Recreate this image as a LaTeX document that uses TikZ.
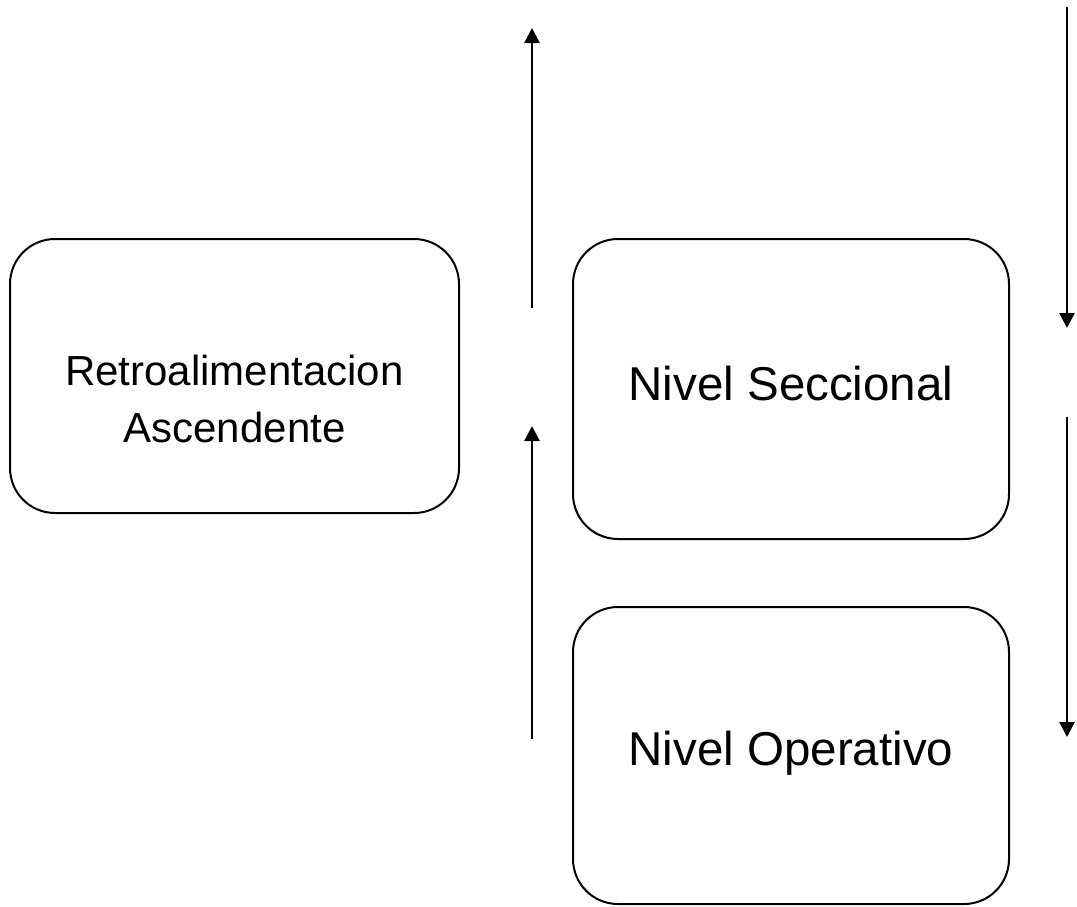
\documentclass[tikz,border=0pt]{standalone}
\usepackage{fontspec}
\setmainfont{Liberation Sans}
\usetikzlibrary{arrows.meta}
\begin{document}
\begin{tikzpicture}[x=1pt,y=-1pt,
  stage/.style={draw, line width=2pt, rounded corners=45pt, inner sep=0pt},
  flow/.style={line width=2.5pt, -{Triangle[length=15pt,width=15pt]}},
  bigtext/.style={font=\fontsize{47.5}{55}\selectfont, anchor=base, inner sep=0pt},
  midtext/.style={font=\fontsize{42}{55}\selectfont, anchor=base, inner sep=0pt}]
\useasboundingbox (0,0) rectangle (1077,906);

% boxes
\node[stage, minimum width=449pt, minimum height=274pt] (retro) at (234.5,376) {};
\node[stage, minimum width=436pt, minimum height=300pt] (secc) at (791,389) {};
\node[stage, minimum width=436pt, minimum height=297pt] (oper) at (791,755.5) {};

% labels
\node[midtext] (retroA) at (234.5,385) {Retroalimentacion};
\node[midtext] (retroB) at (234.5,442) {Ascendente};
\node[bigtext] (seccT) at (791,400) {Nivel Seccional};
\node[bigtext] (operT) at (791,765) {Nivel Operativo};

% arrow ends
\coordinate (upAs) at (532,308);
\coordinate (upAe) at (532,28);
\coordinate (upBs) at (532,739);
\coordinate (upBe) at (532,426);
\coordinate (dnAs) at (1067,7);
\coordinate (dnAe) at (1067,328);
\coordinate (dnBs) at (1067,417);
\coordinate (dnBe) at (1067,737);

\draw[flow] (upAs) -- (upAe);
\draw[flow] (upBs) -- (upBe);
\draw[flow] (dnAs) -- (dnAe);
\draw[flow] (dnBs) -- (dnBe);
\end{tikzpicture}
\end{document}
